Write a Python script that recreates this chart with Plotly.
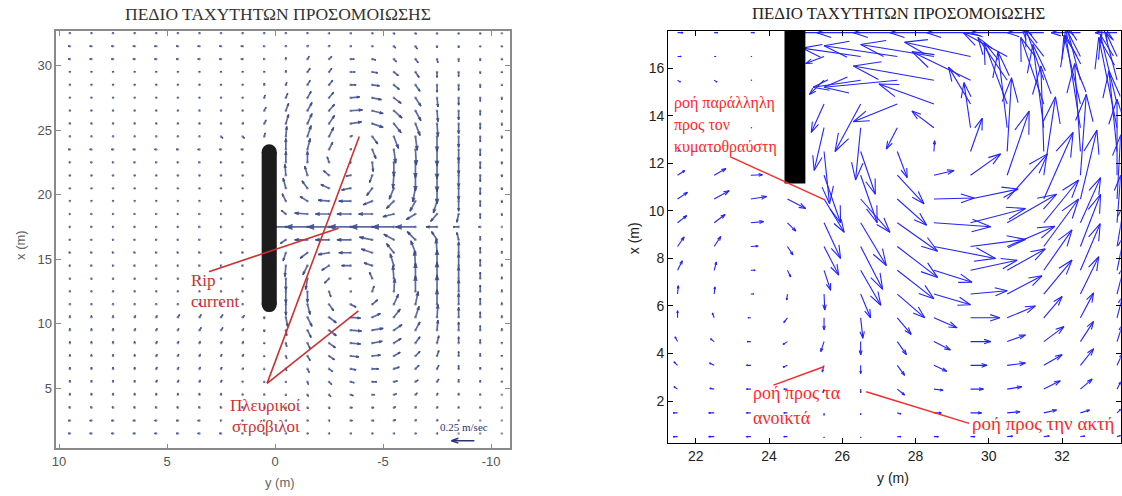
import numpy as np
import plotly.graph_objects as go

W, H = 1122, 496

# ======================= LEFT PANEL DATA =======================
# grid columns: y (m); grid rows: x (m); velocities in cm/s (u along +y, v along +x)
L_Y = [9.5, 8.5, 7.5, 6.5, 5.5, 4.5, 3.5, 2.5, 1.5, 0.5, -0.5, -1.5, -2.5, -3.5,
       -4.5, -5.5, -6.5, -7.5, -8.5, -9.5, -10.5]
L_X = [1.5, 2.5, 3.5, 4.5, 5.5, 6.5, 7.5, 8.5, 9.5, 10.5, 11.5, 12.5, 13.5, 14.5,
       15.5, 16.5, 17.5, 18.5, 19.5, 20.5, 21.5, 22.5, 23.5, 24.5, 25.5, 26.5,
       27.5, 28.5, 29.5, 30.5, 31.5, 32.5]
L_U = [
    [2, 2, 2, 2, 2, 2, 2, 2, 1, 1, -1, -1, -1, -1, -1, -1, -1, -1, 0, 0, 0],
    [2, 2, 2, 2, 2, 2, 2, 1, 1, 1, -1, -1, -1, -2, -2, -2, -1, -1, 0, 0, 0],
    [1, 1, 1, 1, 1, 1, 1, 1, 1, 0, 0, -1, -1, -2, -2, -2, -1, -1, 0, 0, 0],
    [0, 0, 0, 0, 0, 0, 0, 0, 0, 0, 0, -1, -2, -3, -3, -3, -2, -1, 0, 0, 0],
    [0, 0, 0, 0, -1, -1, -1, -1, 0, 0, 0, -1, -3, -4, -5, -4, -3, -2, 0, 0, 0],
    [0, 0, 0, 0, -1, -1, -1, -1, -1, 0, -1, -2, -4, -6, -7, -6, -4, -2, 0, 0, 0],
    [0, 0, 0, 0, -1, -1, -1, -1, -1, 0, -1, -3, -6, -9, -9, -7, -5, -2, 0, 0, 0],
    [0, 0, 0, 0, -1, -1, -1, -1, -1, 0, -1, -3, -7, -11, -11, -8, -5, -2, 0, 0, 0],
    [0, 0, 0, -1, -1, -1, -2, -2, -1, 0, -1, -4, -8, -12, -12, -9, -5, -1, 0, 0, 0],
    [0, 0, 0, -1, -1, -2, -2, -2, -2, 0, -2, -5, -8, -11, -9, -7, -4, -1, 0, 0, 0],
    [0, 0, 0, 0, 0, 0, 0, 0, 0, 0, 0, -3, -5, -6, -6, -5, -3, 0, 0, 0, 0],
    [0, 0, 0, 0, 0, 0, 0, 0, 0, 0, 0, 0, -2, -1, -2, -1, 0, 0, 0, 0, 0],
    [0, 0, 0, 0, 0, 0, 0, 0, 0, 0, 0, 2, 5, 2, 3, 1, 0, 0, 0, 0, 0],
    [1, 1, 1, 1, 1, 1, 1, 1, 1, 0, 1, 5, 8, 10, 9, 4, 1, 0, 0, 0, 0],
    [1, 1, 1, 1, 1, 1, 1, 1, 1, 0, 3, 8, 12, 13, 12, 8, 5, 1, 0, 0, 0],
    [1, 1, 1, 1, 1, 1, 1, 1, 1, 0, 6, 14, 15, 15, 14, 11, 9, 6, 2, 0, 0],
    [1, 1, 1, 1, 1, 1, 1, 1, 1, 0, 24, 24, 24, 24, 24, 24, 22, 12, 6, 2, 0],
    [1, 1, 1, 1, 1, 1, 1, 1, 1, 0, 5, 14, 15, 15, 15, 12, 10, 7, 2, 0, 0],
    [0, 0, 0, 0, 0, 0, 0, 0, 0, 0, 4, 8, 12, 13, 10, 8, 6, 4, 0, 0, 0],
    [0, 0, 0, 0, 0, 0, 0, 0, 0, 0, 3, 6, 9, 10, 6, 5, 3, 0, 0, 0, 0],
    [0, 0, 0, 0, 0, 0, 0, 0, 0, 0, 1, 3, 6, 5, 3, 1, 0, 0, 0, 0, 0],
    [1, 1, 1, 1, 1, 1, 1, 1, 1, 0, 0, 0, 2, 1, -1, 0, 0, 0, 0, 0, 0],
    [2, 2, 2, 2, 2, 2, 2, 2, 2, 0, 0, -3, -4, -1, -4, -2, -1, 0, 0, 0, 0],
    [0, 0, 0, 0, 0, 0, 0, -2, -2, -1, -1, -4, -5, -2, -6, -5, -2, 0, 0, 0, 0],
    [0, 0, 0, 0, 0, 0, 0, 0, -1, -2, -3, -5, -6, -12, -12, -8, -5, -1, 0, 0, 0],
    [0, 0, 0, 0, 0, 0, 0, 0, 0, -2, -3, -5, -6, -13, -12, -9, -6, -1, 0, 0, 0],
    [0, 0, 0, 0, 0, 0, 0, 0, 0, -1, -2, -4, -5, -10, -10, -8, -6, -1, 0, 0, 0],
    [0, 0, 0, 0, 0, 0, 0, 0, 0, 0, -1, -3, -4, -6, -8, -6, -5, 0, 0, 0, 0],
    [0, 0, 0, 0, 0, 0, 0, 0, 0, 0, 0, -3, -3, -5, -6, -5, -4, 0, 0, 0, 0],
    [2, 2, 2, 2, 2, 2, 2, 2, 2, 1, 0, -2, -3, -4, -4, -3, -3, -1, 0, 0, 0],
    [2, 2, 2, 2, 2, 2, 2, 2, 2, 1, 0, -1, -1, -1, -1, -2, -2, 0, 0, 0, 0],
    [0, 0, 0, 0, 0, 0, 0, 0, 0, 0, 0, 0, -1, -1, -1, -1, -1, 0, 0, 0, 0],
]
L_V = [
    [0, 0, 0, 0, 0, 0, 0, 0, 0, 0, 0, 0, 0, 0, 0, 0, 0, 0, 0, 0, 0],
    [0, 0, 0, 0, 0, 0, 0, 0, 0, 0, 0, 0, 0, 0, 0, 1, 1, 1, 1, 0, 0],
    [1, 1, 1, 1, 1, 1, 1, 1, 1, 0, -1, -1, -1, 0, 0, 1, 1, 1, 1, 1, 0],
    [2, 2, 2, 2, 2, 2, 2, 2, 1, 1, -1, -2, -2, -1, 0, 1, 2, 2, 2, 1, 0],
    [2, 2, 2, 2, 2, 2, 2, 2, 1, -1, -1, -3, -3, -1, 0, 1, 2, 3, 3, 2, 1],
    [2, 2, 2, 2, 2, 2, 2, 2, 1, -1, -2, -4, -3, -1, 0, 2, 4, 4, 4, 2, 1],
    [2, 2, 2, 2, 2, 2, 2, 2, 2, -1, -3, -5, -4, -1, 1, 4, 5, 6, 5, 3, 1],
    [2, 2, 2, 2, 2, 2, 2, 2, 2, -1, -4, -6, -5, -1, 2, 5, 7, 8, 7, 4, 1],
    [2, 2, 2, 2, 2, 2, 3, 3, 2, -2, -6, -8, -6, -1, 2, 6, 9, 11, 9, 5, 2],
    [2, 2, 2, 2, 2, 3, 3, 3, 2, -2, -10, -10, -6, -1, 4, 9, 12, 14, 11, 6, 2],
    [1, 1, 1, 1, 1, 1, 1, 1, 1, 0, -12, -11, -7, -3, 5, 11, 14, 16, 12, 7, 2],
    [1, 1, 1, 1, 1, 1, 1, 1, 1, 0, -13, -12, -6, 0, 6, 14, 17, 18, 13, 7, 2],
    [-1, -1, -1, -1, -1, -1, -1, -1, -1, 0, -13, -12, -5, 0, 7, 14, 17, 18, 13, 7, 2],
    [0, 0, 0, 0, 0, 0, 0, 0, 0, 0, -12, -10, -5, 0, 3, 13, 16, 17, 13, 7, 2],
    [1, 1, 1, 1, 1, 1, 1, 1, 1, 0, -9, -6, -2, 0, 4, 10, 13, 15, 12, 6, 2],
    [0, 0, 0, 0, 0, 0, 0, 0, 0, 0, -4, 0, 0, 0, 3, 6, 9, 9, 8, 4, 2],
    [0, 0, 0, 0, 0, 0, 0, 0, 0, 0, 0, 0, 0, 0, 0, 0, 0, 0, 0, 0, 0],
    [0, 0, 0, 0, 0, 0, 0, 0, 0, 0, 4, 1, 0, 0, 0, -3, -6, -8, -9, -5, -2],
    [1, 1, 1, 1, 1, 1, 1, 1, 1, 0, 8, 5, 1, 0, -4, -8, -11, -13, -11, -6, -2],
    [-1, -1, -1, -1, -1, -1, -1, -1, -1, 0, 11, 8, 4, -2, -8, -12, -15, -17, -13, -7, -2],
    [-1, -1, -1, -1, -1, -1, -1, -1, -1, 0, 12, 10, 5, -1, -8, -14, -17, -18, -13, -7, -2],
    [0, 0, 0, 0, 0, 0, 0, 0, 0, 0, 12, 12, 6, -1, -10, -15, -17, -18, -13, -7, -2],
    [0, 0, 0, 0, 0, 0, 0, 0, 0, 0, 12, 12, 8, 1, -10, -15, -17, -18, -13, -7, -2],
    [1, 1, 1, 1, 1, 1, 1, -2, -2, 4, 11, 12, 10, 1, -8, -13, -15, -16, -12, -6, -2],
    [1, 1, 1, 1, 1, 1, 1, 1, 1, 4, 10, 11, 9, 2, -4, -10, -13, -14, -11, -6, -2],
    [1, 1, 1, 1, 1, 1, 1, 1, 1, 4, 8, 9, 7, 1, -3, -8, -11, -12, -10, -5, -2],
    [1, 1, 1, 1, 1, 1, 1, 1, 1, 3, 5, 7, 6, 1, -2, -6, -9, -10, -8, -4, -2],
    [1, 1, 1, 1, 1, 1, 1, 1, 1, 2, 3, 5, 5, 0, -1, -5, -7, -8, -6, -3, -1],
    [1, 1, 1, 1, 1, 1, 1, 1, 1, 1, 2, 4, 4, 0, -1, -4, -6, -6, -5, -2, -1],
    [0, 0, 0, 0, 0, 0, 0, 0, 0, 0, 2, 3, 3, 0, -1, -3, -4, -4, -3, -2, -1],
    [0, 0, 0, 0, 0, 0, 0, 0, 0, 0, 1, 1, 1, 0, 0, -2, -3, -2, -2, -1, -1],
    [1, 1, 1, 1, 1, 1, 1, 1, 1, 1, 1, 1, 0, 0, 0, -1, -1, -1, -1, -1, 0],
]
L_XTICKS = [10, 5, 0, -5, -10]
L_XTICKTEXT = ["10", "5", "0", "-5", "-10"]
L_YTICKS = [5, 10, 15, 20, 25, 30]
L_BREAKWATER_Y = [0.62, -0.08]
L_BREAKWATER_X = [10.9, 23.9]
L_SCALE_TAIL = (-9.23, 0.94)
L_SCALE_SPEED = 25  # cm/s -> 0.25 m/sec
L_RIP_LINE = ([3.06, -2.94], [14.03, 17.4])
L_VORTEX_LINE_1 = ([0.37, -3.9], [5.38, 24.5])
L_VORTEX_LINE_2 = ([0.37, -3.86], [5.38, 11.0])

# ======================= RIGHT PANEL DATA =======================
R_Y = [21.5, 22.5, 23.5, 24.5, 25.5, 26.5, 27.5, 28.5, 29.5, 30.5, 31.5, 32.5, 33.5]
R_X = [0.5, 1.5, 2.5, 3.5, 4.5, 5.5, 6.5, 7.5, 8.5, 9.5, 10.5, 11.5, 12.5, 13.5,
       14.5, 15.5, 16.5, 17.5]
R_U = [
    [-0.12, -0.15, -0.12, -0.10, 0.00, 0.00, 0.10, 0.12, 0.12, 0.15, 0.15, 0.12, 0.10],
    [-0.12, -0.15, -0.12, -0.10, 0.00, 0.00, 0.10, 0.20, 0.30, 0.35, 0.35, 0.25, 0.10],
    [-0.10, -0.12, -0.12, -0.10, -0.03, 0.00, 0.20, 0.25, 0.35, 0.40, 0.45, 0.32, 0.10],
    [-0.10, -0.13, -0.12, -0.12, -0.05, 0.00, 0.20, 0.35, 0.45, 0.50, 0.50, 0.36, 0.15],
    [-0.07, -0.10, -0.10, -0.12, -0.09, 0.00, 0.25, 0.45, 0.55, 0.50, 0.55, 0.36, 0.15],
    [0.00, -0.05, -0.08, -0.10, 0.00, 0.06, 0.38, 0.63, 0.80, 0.77, 0.50, 0.36, 0.15],
    [0.02, 0.02, 0.08, -0.02, 0.02, 0.27, 0.75, 1.00, 1.00, 0.95, 0.77, 0.50, 0.20],
    [0.13, 0.06, 0.12, 0.09, 0.18, 0.55, 1.00, 1.04, 1.27, 1.04, 0.77, 0.54, 0.20],
    [0.18, 0.18, 0.20, 0.15, 0.40, 0.60, 1.10, 1.68, 1.50, 1.30, 0.95, 0.55, 0.20],
    [0.25, 0.30, 0.35, 0.23, 0.45, 0.70, 1.10, 1.55, 1.50, 1.35, 0.95, 0.55, 0.10],
    [0.27, 0.41, 0.43, 0.50, 0.55, 0.80, 0.80, 1.10, 1.30, 1.10, 0.80, 0.45, 0.10],
    [0.20, 0.32, 0.32, 0.00, 0.45, 0.45, 0.73, 0.55, 0.82, 0.60, 0.32, 0.16, 0.00],
    [0.05, 0.05, 0.03, 0.00, 0.15, 0.40, 0.27, 0.02, 0.32, 0.12, -0.08, -0.16, -0.22],
    [0.00, 0.00, 0.03, 0.00, -0.27, -0.14, -0.30, -0.60, -0.18, -0.25, -0.30, -0.40, -0.50],
    [0.00, 0.00, 0.00, 0.00, -0.35, -0.70, -1.20, -1.50, -0.60, -0.63, -0.63, -0.45, -0.45],
    [0.08, 0.08, 0.03, 0.00, -0.40, -1.30, -2.00, -2.20, -1.60, -0.80, -0.50, -0.40, -0.40],
    [0.10, 0.05, 0.03, 0.00, -0.50, -1.60, -2.00, -2.00, -1.80, -1.20, -0.60, -0.40, -0.30],
    [0.15, 0.10, 0.10, 0.00, -1.00, -1.20, -1.20, -1.20, -1.20, -1.00, -1.00, -0.80, -0.60],
]
R_V = [
    [0.00, 0.00, 0.00, 0.00, -0.05, -0.05, 0.00, 0.00, 0.00, 0.02, 0.03, 0.03, 0.05],
    [0.00, 0.00, 0.00, 0.00, -0.10, -0.08, -0.05, 0.00, 0.00, 0.05, 0.12, 0.12, 0.15],
    [0.10, 0.03, 0.00, 0.00, -0.15, -0.15, -0.25, -0.05, 0.00, 0.10, 0.35, 0.42, 0.30],
    [0.15, 0.10, 0.00, -0.08, -0.28, -0.35, -0.42, -0.25, 0.00, 0.10, 0.45, 0.70, 0.50],
    [0.20, 0.12, 0.00, -0.12, -0.42, -0.56, -0.55, -0.35, 0.00, 0.28, 0.63, 0.85, 0.70],
    [0.30, 0.20, 0.00, -0.20, -0.50, -0.86, -0.70, -0.42, 0.00, 0.50, 0.90, 1.05, 0.90],
    [0.35, 0.30, 0.00, -0.25, -0.67, -1.00, -1.00, -0.45, 0.14, 0.77, 1.43, 1.57, 1.20],
    [0.40, 0.35, 0.00, -0.28, -0.84, -1.47, -1.20, -0.50, 0.42, 0.90, 1.70, 1.96, 1.50],
    [0.40, 0.42, 0.02, -0.35, -1.20, -1.80, -1.30, -0.50, 0.30, 0.85, 2.00, 2.20, 1.80],
    [0.30, 0.35, 0.05, -0.35, -1.50, -1.80, -1.20, -0.17, 0.60, 1.20, 1.80, 1.90, 2.00],
    [0.28, 0.35, 0.10, -0.40, -1.40, -1.40, -1.10, 0.04, 0.42, 1.90, 2.80, 2.90, 2.70],
    [0.20, 0.28, 0.02, 0.00, -2.00, -2.00, -1.20, 0.20, 0.90, 2.70, 3.30, 3.40, 3.20],
    [0.05, 0.05, 0.00, 0.00, -2.20, -1.80, -1.10, 0.45, 1.40, 3.10, 3.60, 3.70, 3.40],
    [0.00, 0.00, 0.00, 0.00, -1.80, -2.20, -0.90, 0.70, 1.90, 3.20, 3.50, 3.90, 3.80],
    [0.00, 0.00, 0.00, 0.00, -1.20, -2.00, -0.75, 0.84, 1.55, 2.60, 2.80, 2.90, 2.90],
    [-0.08, -0.08, 0.00, 0.00, -0.60, -0.30, -0.30, 0.60, 1.20, 1.80, 2.20, 2.40, 2.40],
    [0.00, 0.00, 0.00, 0.00, -0.30, 0.35, 0.45, 0.50, 0.60, 1.00, 1.20, 1.20, 1.00],
    [0.00, 0.00, 0.00, 0.00, 0.00, 0.00, 0.00, 0.00, 0.00, 0.00, 0.00, 0.00, 0.00],
]
R_XTICKS = [22, 24, 26, 28, 30, 32]
R_YTICKS = [2, 4, 6, 8, 10, 12, 14, 16]
R_BREAKWATER_Y = [24.42, 24.99]
R_BREAKWATER_X = [11.15, 17.7]
R_LINE_PARALLEL = ([22.93, 25.52], [12.28, 10.46])
R_LINE_OFFSHORE = ([24.12, 25.49], [2.67, 3.44])
R_LINE_ONSHORE = ([26.65, 29.46], [2.39, 1.06])

TITLE = "ΠΕΔΙΟ ΤΑΧΥΤΗΤΩΝ ΠΡΟΣΟΜΟΙΩΣΗΣ"

# ======================= LAYOUT GEOMETRY (pixels) =======================
L_BOX = (51.7, 30.7, 507.3, 448.3)      # left, top, right, bottom
L_XR = [10.12, -10.88]
L_YR = [0.35, 32.7]
R_BOX = (666.0, 31.0, 1120.7, 442.7)
R_XR = [21.24, 33.6]
R_YR = [0.245, 17.57]
PX_PER_CMS = 23.0 / 25.0   # scale arrow: 0.25 m/s drawn 23 px long


def d2p(x, y, box, xr, yr):
    px = box[0] + (x - xr[0]) / (xr[1] - xr[0]) * (box[2] - box[0])
    py = box[3] - (y - yr[0]) / (yr[1] - yr[0]) * (box[3] - box[1])
    return px, py


def p2d(px, py, box, xr, yr):
    x = xr[0] + (px - box[0]) / (box[2] - box[0]) * (xr[1] - xr[0])
    y = yr[0] + (box[3] - py) / (box[3] - box[1]) * (yr[1] - yr[0])
    return x, y


def arrows(tails, tips_px, box, xr, yr, alpha=0.33, beta=0.33):
    """tails: list of (x,y) data; tips_px: list of (px,py). Return shaft + head polylines in data."""
    sx, sy, hx, hy = [], [], [], []
    for (x0, y0), (qx, qy) in zip(tails, tips_px):
        tx, ty = d2p(x0, y0, box, xr, yr)
        dx, dy = qx - tx, qy - ty
        if abs(dx) < 1e-9 and abs(dy) < 1e-9:
            continue
        a = p2d(tx, ty, box, xr, yr)
        b = p2d(qx, qy, box, xr, yr)
        sx += [a[0], b[0], None]
        sy += [a[1], b[1], None]
        p1 = p2d(qx - alpha * (dx + beta * dy), qy - alpha * (dy - beta * dx), box, xr, yr)
        p2 = p2d(qx - alpha * (dx - beta * dy), qy - alpha * (dy + beta * dx), box, xr, yr)
        hx += [p1[0], b[0], p2[0], None]
        hy += [p1[1], b[1], p2[1], None]
    return sx, sy, hx, hy


fig = go.Figure()

# ---------- left quiver ----------
L_COLOR = "rgba(58,74,140,0.82)"
sgn = np.sign((L_BOX[2] - L_BOX[0]) / (L_XR[1] - L_XR[0]))
tails, tips, gx, gy = [], [], [], []
for i, xv in enumerate(L_X):
    for j, yv in enumerate(L_Y):
        u, v = L_U[i][j], L_V[i][j]
        tx, ty = d2p(yv, xv, L_BOX, L_XR, L_YR)
        tails.append((yv, xv))
        tips.append((tx + sgn * u * PX_PER_CMS, ty - v * PX_PER_CMS))
        gx.append(yv)
        gy.append(xv)
sx, sy, hx, hy = arrows(tails, tips, L_BOX, L_XR, L_YR, alpha=0.32, beta=0.36)
fig.add_trace(go.Scatter(x=gx, y=gy, mode="markers", xaxis="x", yaxis="y",
                         marker=dict(size=2.6, color="rgba(85,92,140,0.65)"), hoverinfo="skip"))
fig.add_trace(go.Scatter(x=sx, y=sy, mode="lines", xaxis="x", yaxis="y",
                         line=dict(color=L_COLOR, width=1.7), hoverinfo="skip"))
fig.add_trace(go.Scatter(x=hx, y=hy, mode="lines", fill="toself", fillcolor=L_COLOR, xaxis="x", yaxis="y",
                         line=dict(color=L_COLOR, width=1.0), hoverinfo="skip"))

# scale arrow
stx, sty = d2p(L_SCALE_TAIL[0], L_SCALE_TAIL[1], L_BOX, L_XR, L_YR)
ssx, ssy, shx, shy = arrows([L_SCALE_TAIL], [(stx + sgn * L_SCALE_SPEED * PX_PER_CMS, sty)],
                            L_BOX, L_XR, L_YR, alpha=0.3, beta=0.35)
fig.add_trace(go.Scatter(x=ssx + shx, y=ssy + shy, mode="lines", xaxis="x", yaxis="y",
                         line=dict(color="#2c3374", width=1.5), hoverinfo="skip"))

# ---------- right quiver ----------
R_COLOR = "rgb(35,35,255)"
tails, tips = [], []
for i, xv in enumerate(R_X):
    for j, yv in enumerate(R_Y):
        tails.append((yv, xv))
        tips.append(d2p(yv + R_U[i][j], xv + R_V[i][j], R_BOX, R_XR, R_YR))
sx, sy, hx, hy = arrows(tails, tips, R_BOX, R_XR, R_YR, alpha=0.33, beta=0.33)
fig.add_trace(go.Scatter(x=sx + hx, y=sy + hy, mode="lines", xaxis="x2", yaxis="y2",
                         line=dict(color=R_COLOR, width=1.1), hoverinfo="skip"))

# ---------- shapes ----------
shapes = []
# left breakwater (rounded bar)
half_w_px = abs(d2p(L_BREAKWATER_Y[0], 0, L_BOX, L_XR, L_YR)[0] - d2p(L_BREAKWATER_Y[1], 0, L_BOX, L_XR, L_YR)[0]) / 2
r_x = half_w_px / ((L_BOX[3] - L_BOX[1]) / (L_YR[1] - L_YR[0]))
BW = "#1c1c1c"
shapes.append(dict(type="rect", xref="x", yref="y", x0=L_BREAKWATER_Y[0], x1=L_BREAKWATER_Y[1],
                   y0=L_BREAKWATER_X[0] + r_x, y1=L_BREAKWATER_X[1] - r_x, fillcolor=BW, line=dict(width=0)))
for yc in (L_BREAKWATER_X[0], L_BREAKWATER_X[1] - 2 * r_x):
    shapes.append(dict(type="circle", xref="x", yref="y", x0=L_BREAKWATER_Y[0], x1=L_BREAKWATER_Y[1],
                       y0=yc, y1=yc + 2 * r_x, fillcolor=BW, line=dict(width=0)))
# right breakwater
shapes.append(dict(type="rect", xref="x2", yref="y2", x0=R_BREAKWATER_Y[0], x1=R_BREAKWATER_Y[1],
                   y0=R_BREAKWATER_X[0], y1=R_BREAKWATER_X[1], fillcolor="black", line=dict(width=0)))
# red pointer lines
LRED = "rgb(206,48,48)"
for ln in (L_RIP_LINE, L_VORTEX_LINE_1, L_VORTEX_LINE_2):
    shapes.append(dict(type="line", xref="x", yref="y", x0=ln[0][0], x1=ln[0][1], y0=ln[1][0], y1=ln[1][1],
                       line=dict(color=LRED, width=1.6)))
RRED = "rgb(255,40,40)"
for ln in (R_LINE_PARALLEL, R_LINE_OFFSHORE, R_LINE_ONSHORE):
    shapes.append(dict(type="line", xref="x2", yref="y2", x0=ln[0][0], x1=ln[0][1], y0=ln[1][0], y1=ln[1][1],
                       line=dict(color=RRED, width=1.4)))


# ---------- text ----------
def ann(text, px, py, size, color, family, xanchor="center", angle=0):
    return dict(text=text, x=px / W, y=1 - py / H, xref="paper", yref="paper", showarrow=False,
                xanchor=xanchor, yanchor="middle", textangle=angle,
                font=dict(size=size, color=color, family=family))


SERIF = "Liberation Serif, Times New Roman, serif"
SANS = "Liberation Sans, Arial, sans-serif"
annotations = [
    ann(TITLE, 274, 14, 17.5, "#333333", SERIF),
    ann(TITLE, 897, 13, 16.8, "#222222", SERIF),
    ann("y (m)", 276, 482, 13, "#666666", SANS),
    ann("x (m)", 16, 245, 13, "#666666", SANS, angle=-90),
    ann("y (m)", 892, 478, 14, "#222222", SANS),
    ann("x (m)", 632, 238, 14, "#222222", SANS, angle=-90),
    ann("Rip", 185, 280, 17, LRED, SERIF, xanchor="left"),
    ann("current", 185, 301, 17, LRED, SERIF, xanchor="left"),
    ann("Πλευρικοί", 262, 405, 17, LRED, SERIF),
    ann("στρόβιλοι", 262, 426, 17, LRED, SERIF),
    ann("0.25 m/sec", 461, 427, 11, "#2c3374", SERIF),
    ann("ροή παράλληλη", 670, 103, 16, RRED, SERIF, xanchor="left"),
    ann("προς τον", 670, 125, 16, RRED, SERIF, xanchor="left"),
    ann("κυματοθραύστη", 670, 147, 16, RRED, SERIF, xanchor="left"),
    ann("ροή προς τα", 749, 393, 18, RRED, SERIF, xanchor="left"),
    ann("ανοικτά", 749, 418, 18, RRED, SERIF, xanchor="left"),
    ann("ροή προς την ακτή", 969, 423, 19, RRED, SERIF, xanchor="left"),
]

LGRAY = "#8a8a8a"
common_l = dict(showgrid=False, zeroline=False, showline=True, mirror="ticks", linecolor=LGRAY,
                linewidth=1.6, ticks="inside", ticklen=5, tickcolor=LGRAY,
                tickfont=dict(family=SANS, size=13, color="#555555"))
common_r = dict(showgrid=False, zeroline=False, showline=True, mirror="ticks", linecolor="black",
                linewidth=1, ticks="inside", ticklen=5, tickcolor="black",
                tickfont=dict(family=SANS, size=14, color="#222222"))

fig.update_layout(
    width=W, height=H, margin=dict(l=0, r=0, t=0, b=0), showlegend=False,
    paper_bgcolor="white", plot_bgcolor="white",
    xaxis=dict(domain=[L_BOX[0] / W, L_BOX[2] / W], range=L_XR, anchor="y",
               tickvals=L_XTICKS, ticktext=L_XTICKTEXT, **common_l),
    yaxis=dict(domain=[1 - L_BOX[3] / H, 1 - L_BOX[1] / H], range=L_YR, anchor="x",
               tickvals=L_YTICKS, **common_l),
    xaxis2=dict(domain=[R_BOX[0] / W, R_BOX[2] / W], range=R_XR, anchor="y2",
                tickvals=R_XTICKS, **common_r),
    yaxis2=dict(domain=[1 - R_BOX[3] / H, 1 - R_BOX[1] / H], range=R_YR, anchor="x2",
                tickvals=R_YTICKS, **common_r),
    shapes=shapes, annotations=annotations,
)

fig.write_html("out.html", config={"displayModeBar": False})
